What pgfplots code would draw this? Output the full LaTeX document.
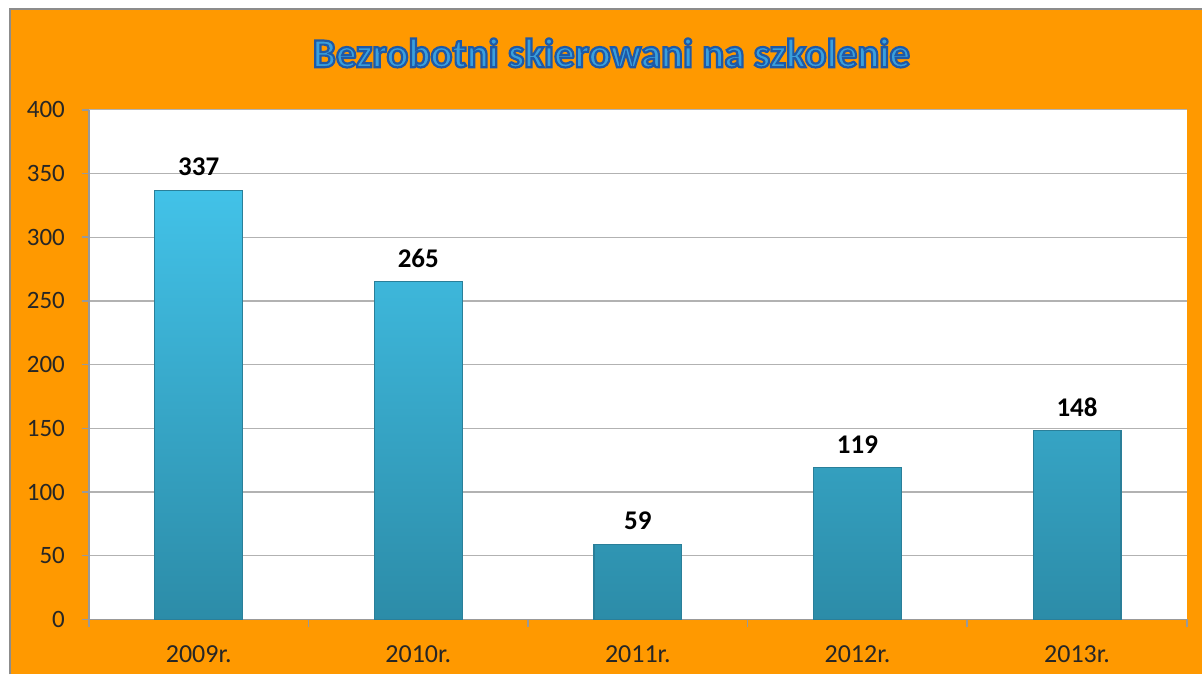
\documentclass[border=0pt]{standalone}
\usepackage{pgfplots}
\pgfplotsset{compat=1.18}
\usepackage{fontspec}
\setmainfont{Carlito}
\definecolor{bgorange}{HTML}{FF9900}
\definecolor{bartop}{HTML}{42C2E8}
\definecolor{barbot}{HTML}{2C8CA8}
\definecolor{baredge}{HTML}{2A7F99}
\definecolor{titlefill}{HTML}{3AA0DC}
\begin{document}
\begin{tikzpicture}[x=1pt,y=1pt]
% frame
\fill[white] (0,0) rectangle (601.5,337.5);
\fill[bgorange] (5,0) rectangle (601.5,333);
\draw[gray!90, line width=1.2pt] (5,0) -- (5,333) -- (601.5,333);
% title, filled and outlined
\node[text=titlefill] at (306,311) {\fontsize{20.5}{24}\selectfont\bfseries
  \special{pdf:literal direct 0.12 0.35 0.65 RG 1.1 w 2 Tr}%
  Bezrobotni skierowani na szkolenie%
  \special{pdf:literal direct 0 Tr}};
\begin{axis}[
    at={(44.5pt,27.5pt)}, anchor=south west,
    scale only axis, width=549.5pt, height=255pt,
    axis background/.style={fill=white},
    xmin=-0.5, xmax=4.5, ymin=0, ymax=400,
    ytick={0,50,...,400},
    xtick={0,1,2,3,4},
    xticklabels={2009r.,2010r.,2011r.,2012r.,2013r.},
    minor xtick={-0.5,0.5,1.5,2.5,3.5,4.5},
    axis x line*=bottom, axis y line*=left,
    axis line style={gray!80, line width=0.8pt},
    tick align=outside,
    major tick length=3.5pt, minor tick length=4pt,
    major x tick style={draw=none},
    minor x tick style={gray!80, line width=0.8pt},
    y tick style={gray!80, line width=0.8pt},
    ymajorgrids=true,
    grid style={gray!60, line width=0.6pt},
    /pgf/number format/assume math mode=true,
    yticklabel style={font=\fontsize{12.5}{14}\selectfont, text=black!85, xshift=-5pt},
    xticklabel style={font=\fontsize{13}{15}\selectfont, text=black!85, yshift=-6pt},
    ybar, bar width=0.4,
    nodes near coords,
    every node near coord/.append style={font=\fontsize{13.5}{15}\selectfont\bfseries, text=black, yshift=3.5pt},
  ]
\addplot[draw=baredge, line width=0.6pt, top color=bartop, bottom color=barbot] coordinates {
  (0,337) (1,265) (2,59) (3,119) (4,148)};
\end{axis}
\end{tikzpicture}
\end{document}
